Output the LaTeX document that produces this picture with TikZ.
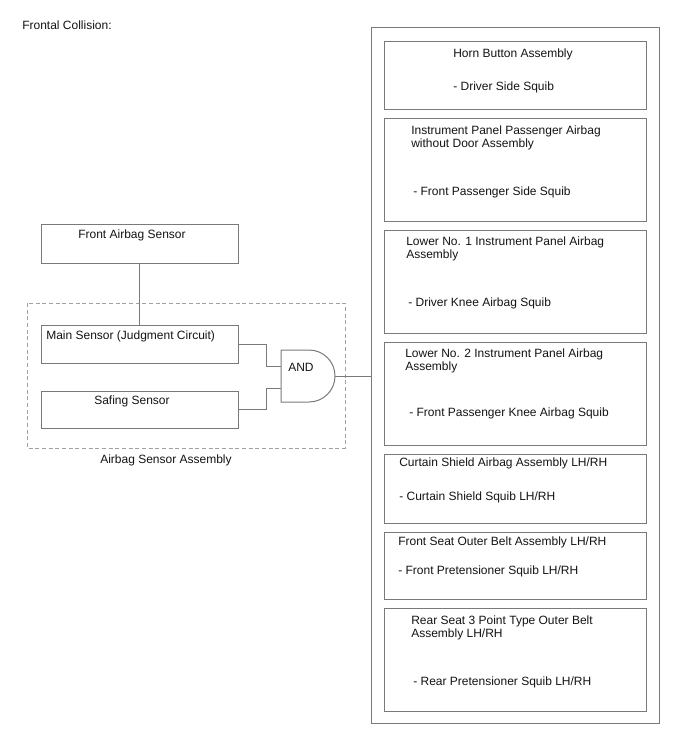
\documentclass[tikz,border=0pt]{standalone}
\usepackage{fontspec}
\setmainfont{Liberation Sans}
\usetikzlibrary{fit,calc}
\definecolor{linegray}{HTML}{7A7A7A}
\definecolor{dashgray}{HTML}{A0A0A0}
\definecolor{txt}{HTML}{141414}
\begin{document}
\begin{tikzpicture}[x=0.75pt,y=-0.75pt,
  box/.style={draw=linegray, line width=0.75pt, inner sep=0pt},
  lbl/.style={anchor=west, align=left, inner sep=0pt, yshift=-1.1pt, text=txt, font=\fontsize{9}{9.75}\selectfont},
  wire/.style={draw=linegray, line width=0.75pt}]
\useasboundingbox (0,0) rectangle (688,755);
\fill[white] (0,0) rectangle (688,755);

\node[lbl] (title) at (22,24) {Frontal Collision:};

% right column
\node[box, fit={(371,28)(659,723)}] (outer) {};
\node[box, fit={(384,42)(646,110)}] (b1) {};
\node[box, fit={(384,119)(646,222)}] (b2) {};
\node[box, fit={(384,231)(646,333)}] (b3) {};
\node[box, fit={(384,342)(646,445)}] (b4) {};
\node[box, fit={(384,454)(646,523)}] (b5) {};
\node[box, fit={(384,532)(646,599)}] (b6) {};
\node[box, fit={(384,608)(646,711)}] (b7) {};

\node[lbl] (t1a) at (453,53) {Horn Button Assembly};
\node[lbl] (t1b) at (453,86) {- Driver Side Squib};
\node[lbl] (t2a) at (411,136.5) {Instrument Panel Passenger Airbag\\without Door Assembly};
\node[lbl] (t2b) at (413,191) {- Front Passenger Side Squib};
\node[lbl] (t3a) at (406,247.5) {Lower No. 1 Instrument Panel Airbag\\Assembly};
\node[lbl] (t3b) at (408,302) {- Driver Knee Airbag Squib};
\node[lbl] (t4a) at (405,359) {Lower No. 2 Instrument Panel Airbag\\Assembly};
\node[lbl] (t4b) at (409,412) {- Front Passenger Knee Airbag Squib};
\node[lbl] (t5a) at (399,462) {Curtain Shield Airbag Assembly LH/RH};
\node[lbl] (t5b) at (399,496) {- Curtain Shield Squib LH/RH};
\node[lbl] (t6a) at (398,541) {Front Seat Outer Belt Assembly LH/RH};
\node[lbl] (t6b) at (398,570) {- Front Pretensioner Squib LH/RH};
\node[lbl] (t7a) at (411,626) {Rear Seat 3 Point Type Outer Belt\\Assembly LH/RH};
\node[lbl] (t7b) at (413,681) {- Rear Pretensioner Squib LH/RH};

% left side
\draw[dashgray, line width=0.75pt, dash pattern=on 3pt off 2pt] (27,303) rectangle (345,448);
\node[lbl] (asm) at (100,459) {Airbag Sensor Assembly};

\node[box, fit={(41,225)(238,263)}] (front) {};
\node[lbl] (tfront) at (78,234) {Front Airbag Sensor};
\node[box, fit={(41,325)(238,363)}] (main) {};
\node[lbl] (tmain) at (46,335) {Main Sensor (Judgment Circuit)};
\node[box, fit={(41,391)(238,428)}] (saf) {};
\node[lbl] (tsaf) at (94,400) {Safing Sensor};

% AND gate
\node[inner sep=0pt, fit={(281,350)(335,402)}] (gate) {};
\draw[wire] (281,350) -- (309,350) arc[start angle=90, end angle=-90, radius=19.5pt] -- (281,402) -- cycle;
\node[lbl] (tand) at (288,366) {AND};

% connectors
\draw[wire] (front.south) -- (main.north);
\draw[wire] (main.east) -- ++(28,0) |- ([yshift=7.5pt]gate.west);
\draw[wire] (saf.east) -- ++(28,0) |- ([yshift=-9pt]gate.west);
\draw[wire] (gate.east) -- (outer.west |- gate.east);
\end{tikzpicture}
\end{document}
